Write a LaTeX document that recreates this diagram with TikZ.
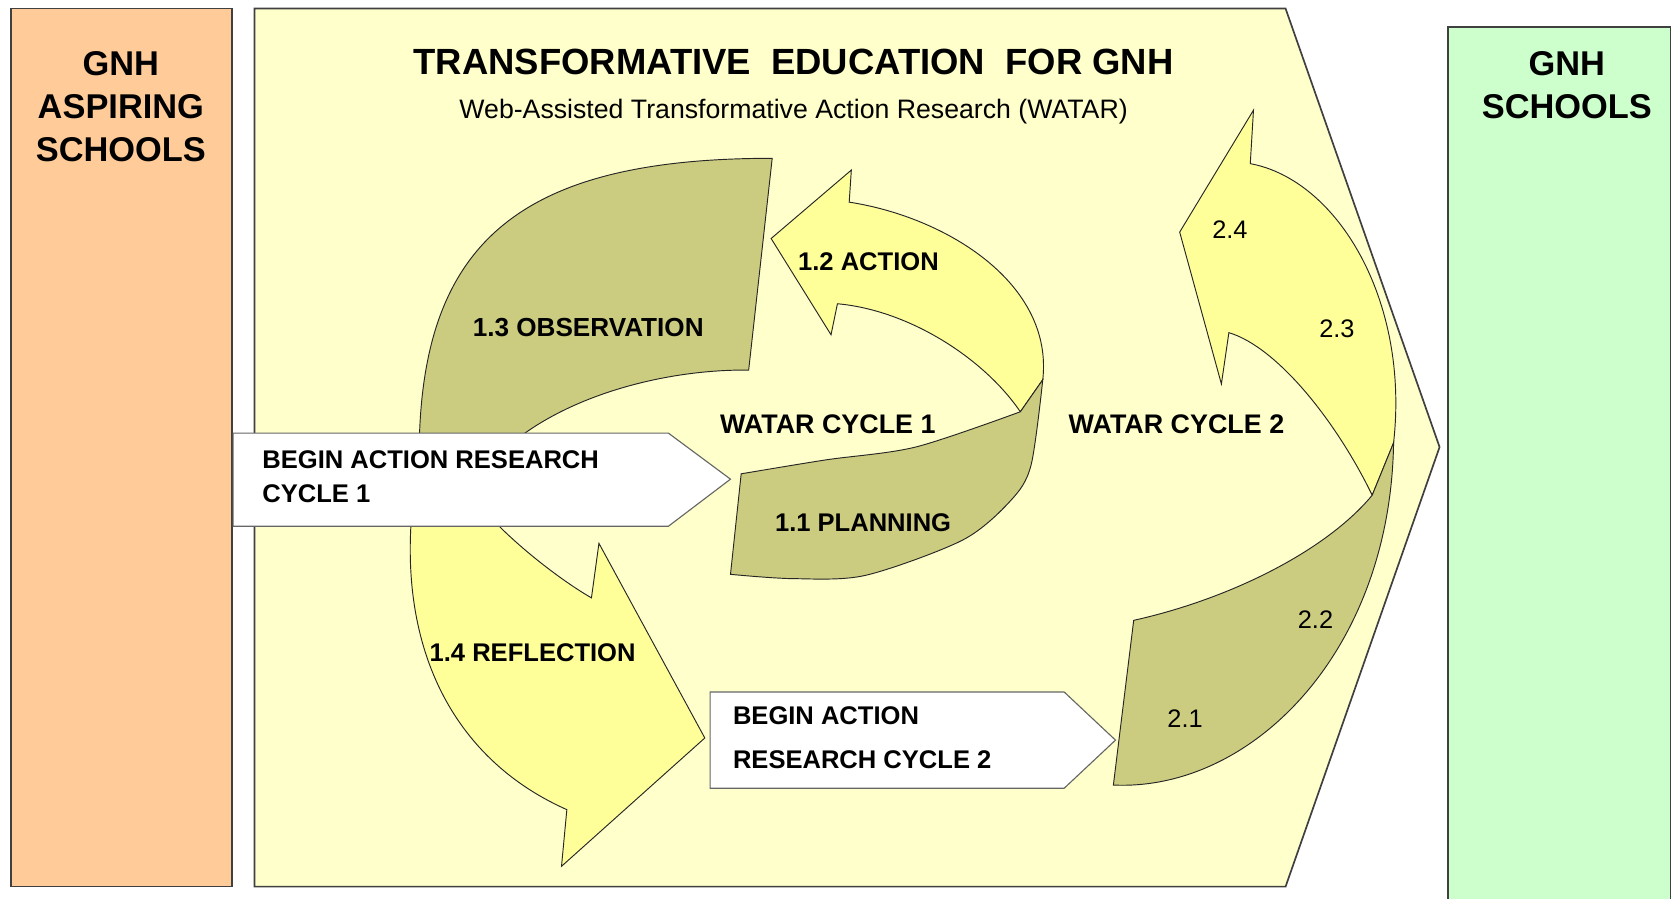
\documentclass[tikz,border=0pt]{standalone}
\usepackage{fontspec}
\setmainfont{Liberation Sans}
\usepackage{tikz}
\usetikzlibrary{positioning}

\definecolor{aspire}{HTML}{FFCC99}
\definecolor{paper}{HTML}{FFFFCC}
\definecolor{gnhgreen}{HTML}{CCFFCC}
\definecolor{bandolive}{HTML}{CCCC80}
\definecolor{bandyellow}{HTML}{FFFF99}

\begin{document}
\begin{tikzpicture}[
        x=0.02cm, y=-0.02cm,
        panel/.style={draw=black!75, line width=0.9pt},
        band/.style={draw=black!85, line width=0.5pt},
        start/.style={draw=black!60, fill=white, line width=0.6pt},
        head/.style={font=\bfseries\fontsize{18.3}{22.8}\selectfont, align=center, inner sep=0pt},
        lbl/.style={font=\bfseries\fontsize{13.6}{16}\selectfont, inner sep=0pt},
        cyc/.style={font=\bfseries\fontsize{14.3}{16}\selectfont, inner sep=0pt},
        num/.style={font=\fontsize{13.5}{16}\selectfont, inner sep=0pt}
    ]
        \useasboundingbox (0,0) rectangle (1568,840);

        % Panels
        \filldraw[panel, fill=aspire] (10,8) rectangle (217,829);
        \filldraw[panel, fill=paper] (238,8) -- (1202,8) -- (1346,418) -- (1202,829) -- (238,829) -- cycle;
        \filldraw[panel, fill=gnhgreen] (1354,870) -- (1354,25) -- (1562,25) -- (1562,870);

        % Cycle 1
        \filldraw[band, fill=bandolive] (392,440) .. controls (388,230) and (480,148) .. (722,148)
            -- (700,346) .. controls (600,345) and (480,385) .. (440,460) -- cycle;
        \filldraw[band, fill=bandyellow] (392,430) .. controls (362,585) and (413,705) .. (530,757)
            -- (525,810) -- (659,690) -- (560,508) -- (553,559)
            .. controls (520,540) and (470,500) .. (447,470) -- cycle;
        \filldraw[band, fill=bandyellow] (721,223) -- (796,159) -- (794,189)
            .. controls (885,203) and (985,265) .. (975,355)
            -- (954,385) .. controls (920,335) and (850,290) .. (783,284) -- (777,313) -- cycle;
        \filldraw[band, fill=bandolive] (693,443) -- (683,537)
            -- plot[smooth] coordinates {(683,537) (741,541) (809,538) (900,505) (945,468) (964,435) (975,355)}
            -- (954,385) -- plot[smooth] coordinates {(954,385) (856,418) (772,430) (693,443)} -- cycle;

        % Cycle 2
        \filldraw[band, fill=bandyellow] (1103,217) -- (1172,103) -- (1169,153)
            .. controls (1250,168) and (1318,280) .. (1303,414)
            -- (1283,463) .. controls (1250,395) and (1195,325) .. (1149,311) -- (1142,359) -- cycle;
        \filldraw[band, fill=bandolive] (1060,580) -- (1041,734)
            .. controls (1170,740) and (1300,610) .. (1303,414)
            -- (1283,463) .. controls (1240,515) and (1150,560) .. (1060,580) -- cycle;

        % Start arrows
        \filldraw[start] (218,405) -- (625,405) -- (683,448) -- (625,492) -- (218,492) -- cycle;
        \filldraw[start] (664,647) -- (995,647) -- (1043,692) -- (995,737) -- (664,737) -- cycle;

        % Texts
        \node[head] (aspiring) at (113,100) {GNH\\ASPIRING\\SCHOOLS};
        \node[head] (gnhschools) at (1465,80) {GNH\\SCHOOLS};
        \node[font=\bfseries\fontsize{19.4}{22}\selectfont, inner sep=0pt] (title) at (742,58) {TRANSFORMATIVE\ \ EDUCATION\ \ FOR GNH};
        \node[font=\fontsize{14.2}{16}\selectfont, inner sep=0pt] (subtitle) at (742,104) {Web-Assisted Transformative Action Research (WATAR)};

        \node[lbl, font=\bfseries\fontsize{13.6}{18.2}\selectfont, align=left, anchor=west] (begin1) at (245,446) {BEGIN ACTION RESEARCH\\CYCLE 1};
        \node[lbl, font=\bfseries\fontsize{13.6}{23.3}\selectfont, align=left, anchor=west] (begin2) at (685,690) {BEGIN ACTION\\RESEARCH CYCLE 2};

        \node[lbl, font=\bfseries\fontsize{13.9}{16}\selectfont] (obs) at (550,306) {1.3 OBSERVATION};
        \node[lbl] (act) at (812,245) {1.2 ACTION};
        \node[lbl] (plan) at (807,489) {1.1 PLANNING};
        \node[lbl] (refl) at (498,610) {1.4 REFLECTION};
        \node[cyc] (cyc1) at (774,397) {WATAR CYCLE 1};
        \node[cyc] (cyc2) at (1100,397) {WATAR CYCLE 2};

        \node[num] (s24) at (1150,215) {2.4};
        \node[num] (s23) at (1250,307) {2.3};
        \node[num] (s22) at (1230,579) {2.2};
        \node[num] (s21) at (1108,672) {2.1};
    \end{tikzpicture}
\end{document}
